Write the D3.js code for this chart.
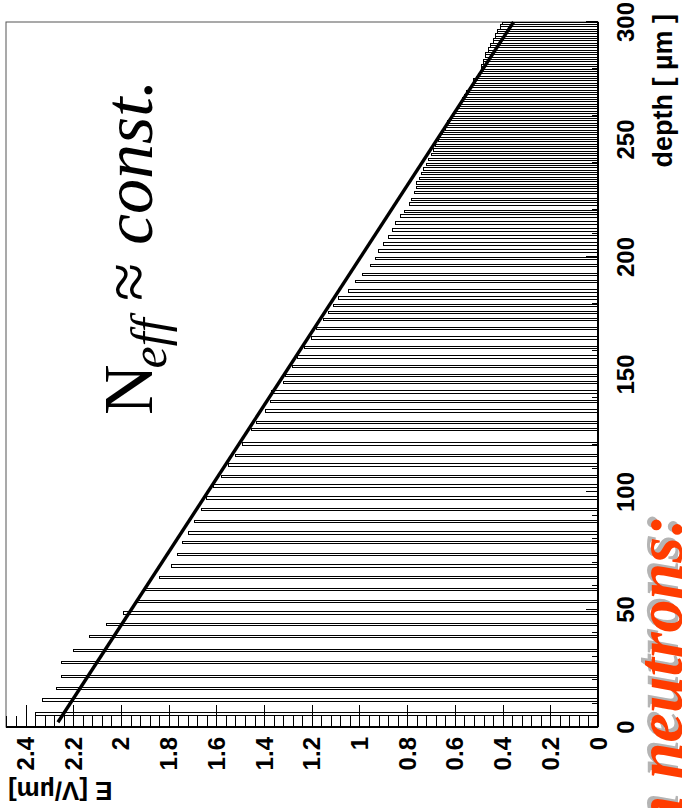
<!DOCTYPE html>
<html>
<head>
<meta charset="utf-8">
<script src="https://cdn.jsdelivr.net/npm/d3@7"></script>
<style>
  html, body { margin: 0; padding: 0; background: #fff; }
  svg { display: block; }
</style>
</head>
<body>
<script>
// Field profile across the sensor depth: one narrow bin per sampled position.
const binStart = [5, 11, 16, 21, 27, 32, 38, 43, 48, 53, 58, 63, 68, 73, 78, 82, 87, 92,
  97, 102, 106, 111, 115, 120, 126, 129, 134, 138, 142, 146, 149, 153, 157, 161, 165, 169, 173, 176, 179,
  182, 185, 189, 192, 196, 199, 202, 205, 208, 211, 214, 217, 219, 222, 224, 227, 229, 231, 233, 235,
  237, 239, 241, 243, 245, 247, 249, 251, 252, 254, 255, 257, 258, 260, 261, 263, 264, 266, 267, 268,
  270, 271, 272, 274, 275, 276, 277, 279, 280, 281, 282, 283, 285, 286, 287, 288, 289, 290, 291, 292,
  293, 294, 295, 296, 297, 298, 299];
const field = [2.36, 2.33, 2.27, 2.25, 2.25, 2.20, 2.13, 2.06, 1.99, 1.93, 1.90, 1.84, 1.79, 1.764, 1.743, 1.715, 1.693, 1.662,
  1.64, 1.61, 1.58, 1.55, 1.52, 1.49, 1.452, 1.431, 1.396, 1.375, 1.368, 1.319, 1.31, 1.28, 1.26, 1.23, 1.20, 1.18, 1.15, 1.13, 1.11,
  1.089, 1.047, 1.015, 0.987, 0.953, 0.931, 0.92, 0.90, 0.88, 0.86, 0.85, 0.83, 0.81, 0.79, 0.78, 0.77, 0.76, 0.76, 0.75, 0.74,
  0.73, 0.72, 0.71, 0.70, 0.69, 0.68, 0.67, 0.66, 0.65, 0.64, 0.64, 0.63, 0.62, 0.61, 0.60, 0.59, 0.58, 0.57, 0.57, 0.56,
  0.55, 0.54, 0.53, 0.52, 0.52, 0.51, 0.50, 0.49, 0.49, 0.49, 0.48, 0.48, 0.47, 0.47, 0.46, 0.46, 0.45, 0.45, 0.44, 0.44,
  0.43, 0.43, 0.42, 0.42, 0.41, 0.41, 0.40];
const binWidth = 1;                 // µm
// Linear fit E(d) = fitOffset + fitSlope * d
const fitOffset = 2.277;
const fitSlope = -0.00641;
const fitRange = [2, 300];
const depthTicks = [0, 50, 100, 150, 200, 250, 300];
const fieldTicks = [0, 0.2, 0.4, 0.6, 0.8, 1, 1.2, 1.4, 1.6, 1.8, 2, 2.2, 2.4];

const W = 682, H = 808;
const svg = d3.select("body").append("svg").attr("width", W).attr("height", H);

// The plot is laid out in its own frame (depth → right, field → up) and turned a quarter turn.
const g = svg.append("g").attr("transform", `translate(0,${H}) rotate(-90)`);

const x = d3.scaleLinear().domain([0, 300]).range([81, 786]);
const y = d3.scaleLinear().domain([0, 2.482]).range([598, 6]);

// frame
g.append("rect")
  .attr("x", x(0)).attr("y", y(2.482))
  .attr("width", x(300) - x(0)).attr("height", y(0) - y(2.482))
  .attr("fill", "#fff").attr("stroke", "#555").attr("stroke-width", 1);

// bars (hollow, pixel-snapped outlines)
const bars = binStart.map((d, i) => ({ d, e: field[i] }));
g.append("g").attr("shape-rendering", "crispEdges")
  .selectAll("rect").data(bars).join("rect")
  .attr("x", b => x(b.d))
  .attr("width", b => x(b.d + binWidth) - x(b.d))
  .attr("y", b => y(b.e))
  .attr("height", b => y(0) - y(b.e))
  .attr("fill", "#fff")
  .attr("stroke", "#000")
  .attr("stroke-width", 1);

// fitted line
const fitPts = fitRange.map(d => [x(d), y(fitOffset + fitSlope * d)]);
g.append("path")
  .attr("d", d3.line()(fitPts))
  .attr("stroke", "#000").attr("stroke-width", 3.4).attr("fill", "none");

// field axis (left in plot frame), ticks point inward
const axisFont = "'Liberation Sans', Arial, sans-serif";
const yAxis = d3.axisRight(y)
  .tickValues(d3.range(0, 2.481, 0.04))
  .tickSize(11)
  .tickFormat("");
const ya = g.append("g").attr("shape-rendering", "crispEdges")
  .attr("transform", `translate(${x(0)},0)`).call(yAxis);
ya.select(".domain").remove();
ya.selectAll(".tick line").attr("stroke", "#000")
  .attr("x2", d => (Math.abs(Math.round(d * 5) - d * 5) < 1e-6) ? 22 : 11);
g.append("line").attr("x1", x(0)).attr("x2", x(0)).attr("y1", y(0)).attr("y2", y(2.482))
  .attr("stroke", "#000").attr("stroke-width", 2);

g.append("g").selectAll("text").data(fieldTicks).join("text")
  .attr("x", x(0) - 10).attr("y", d => y(d))
  .attr("text-anchor", "end").attr("dominant-baseline", "central")
  .attr("font-family", axisFont).attr("font-weight", "bold").attr("font-size", 24)
  .text(d => d3.format("")(d));

// depth axis (bottom in plot frame), ticks point inward
const xAxis = d3.axisTop(x).tickValues(d3.range(0, 301, 10)).tickSize(6).tickFormat("");
const xa = g.append("g").attr("shape-rendering", "crispEdges")
  .attr("transform", `translate(0,${y(0)})`).call(xAxis);
xa.select(".domain").remove();
xa.selectAll(".tick line").attr("stroke", "#000")
  .attr("y2", d => d % 50 === 0 ? -12 : -6);
g.append("line").attr("x1", x(0)).attr("x2", x(300)).attr("y1", y(0)).attr("y2", y(0))
  .attr("stroke", "#000").attr("stroke-width", 2);

g.append("g").selectAll("text").data(depthTicks).join("text")
  .attr("x", d => x(d)).attr("y", y(0) + 36)
  .attr("text-anchor", "middle")
  .attr("font-family", axisFont).attr("font-weight", "bold").attr("font-size", 24)
  .text(d => d);

// axis titles
g.append("text")
  .attr("x", x(300) + 8).attr("y", 672)
  .attr("text-anchor", "end")
  .attr("font-family", axisFont).attr("font-weight", "bold").attr("font-size", 27)
  .text("depth [ µm ]");

g.append("text")
  .attr("transform", `translate(26,8) rotate(-90)`)
  .attr("text-anchor", "end")
  .attr("font-family", axisFont).attr("font-weight", "bold").attr("font-size", 26)
  .text("E [V/µm]");

// annotation
const note = g.append("text")
  .attr("x", 393).attr("y", 152)
  .attr("font-family", "'Liberation Serif', 'Times New Roman', serif")
  .attr("font-size", 70);
note.append("tspan").text("N");
note.append("tspan").attr("font-style", "italic").attr("font-size", 50).attr("dx", -4).attr("dy", 14).text("eff");
note.append("tspan").attr("dy", -14).text(" \u2248 ");
note.append("tspan").attr("font-style", "italic").text("const.");

// caption (runs off the page edge)
const capFont = "'Liberation Serif', 'Times New Roman', serif";
const caption = "Irradiated with neutrons:";
g.append("text")
  .attr("x", 296).attr("y", 678)
  .attr("text-anchor", "end")
  .attr("font-family", capFont).attr("font-style", "italic").attr("font-weight", "bold")
  .attr("font-size", 66).attr("fill", "#b4b4b4")
  .text(caption);
g.append("text")
  .attr("x", 293).attr("y", 682)
  .attr("text-anchor", "end")
  .attr("font-family", capFont).attr("font-style", "italic").attr("font-weight", "bold")
  .attr("font-size", 66).attr("fill", "#ff3c00")
  .text(caption);
</script>
</body>
</html>
